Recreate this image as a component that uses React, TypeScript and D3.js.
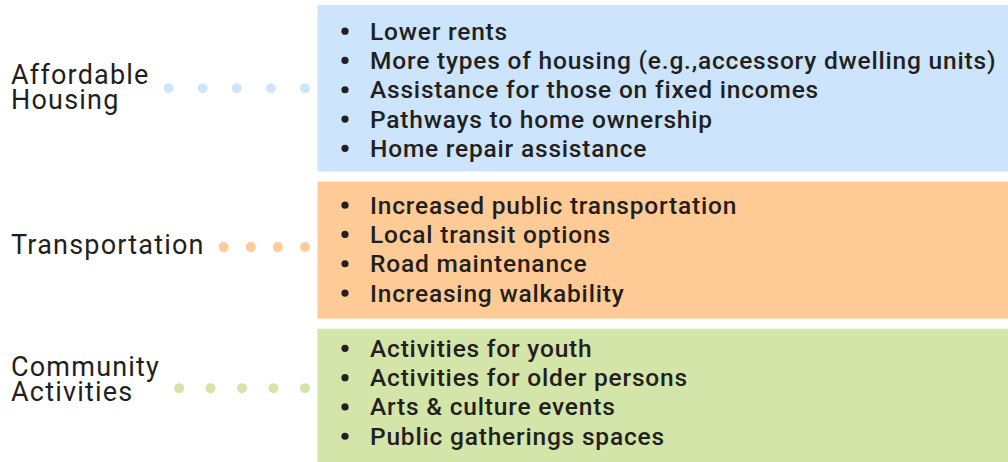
import React, { useRef, useEffect } from "react";
import * as d3 from "d3";

const width = 1008;
const height = 462;

// categories on the left, each split into display lines
const categories = ["Affordable Housing", "Transportation", "Community Activities"];
const categoryLines = [["Affordable", "Housing"], ["Transportation"], ["Community", "Activities"]];
const dotCounts = [5, 4, 5];

// bullet items per category
const housingItems = [
  "Lower rents",
  "More types of housing (e.g.,accessory dwelling units)",
  "Assistance for those on fixed incomes",
  "Pathways to home ownership",
  "Home repair assistance",
];
const transportItems = [
  "Increased public transportation",
  "Local transit options",
  "Road maintenance",
  "Increasing walkability",
];
const communityItems = [
  "Activities for youth",
  "Activities for older persons",
  "Arts & culture events",
  "Public gatherings spaces",
];

const boxColors = ["#cce4fc", "#fecb96", "#d3e5a8"];
const dotColors = ["#cfe5fb", "#fdcb97", "#d3e5a9"];
const textColor = "#231f20";
const font = "Roboto, 'Noto Sans', sans-serif";

// small per-group nudges (layout only)
const itemDy = [0, -2.5, -2.5];
const labelDy = [0, -4, -13];
const dotDy = [0, -3, -5];

const App = () => {
  const ref = useRef(null);

  useEffect(() => {
    document.body.style.margin = "0";
    const svg = d3.select(ref.current);
    svg.selectAll("*").remove();

    const groups = [housingItems, transportItems, communityItems];
    const rowH = 29.3;
    const pad = 20;
    const gap = 10;
    const boxX = 317.5;
    const dotEnd = 305;

    // stack boxes vertically
    let y0 = 5;
    const boxes = groups.map((items, i) => {
      const h = items.length * rowH + pad;
      const b = { i, items, y: y0, h, cy: y0 + h / 2 };
      y0 += h + gap;
      return b;
    });
    boxes[2].cy -= 4; // last box runs off the bottom

    const g = svg.selectAll("g.cat").data(boxes).join("g").attr("class", "cat");

    g.append("rect")
      .attr("x", boxX)
      .attr("y", (d) => d.y)
      .attr("width", width - boxX)
      .attr("height", (d) => d.h)
      .attr("fill", (d) => boxColors[d.i]);

    g.each(function (d) {
      const sel = d3.select(this);
      const half = ((d.items.length - 1) * rowH) / 2;
      const c = d.cy + itemDy[d.i];
      const rows = d3.scaleLinear().domain([0, d.items.length - 1]).range([c - half, c + half]);

      sel.selectAll("circle.bullet")
        .data(d.items)
        .join("circle")
        .attr("class", "bullet")
        .attr("cx", 345)
        .attr("cy", (_, j) => rows(j) + 1.5)
        .attr("r", 3.6)
        .attr("fill", textColor);

      sel.selectAll("text.item")
        .data(d.items)
        .join("text")
        .attr("class", "item")
        .attr("x", 370)
        .attr("y", (_, j) => rows(j) + 10)
        .attr("font-family", font)
        .attr("font-size", 24.5)
        .attr("font-weight", 500)
        .attr("letter-spacing", 0.8)
        .attr("fill", textColor)
        .text((t) => t);

      // left label
      const lines = categoryLines[d.i];
      const label = sel.append("text")
        .attr("font-family", font)
        .attr("font-size", 27)
        .attr("letter-spacing", 1.2)
        .attr("fill", textColor)
        .attr("aria-label", categories[d.i]);
      const lineH = 25;
      lines.forEach((ln, k) => {
        label.append("tspan")
          .attr("x", 11)
          .attr("y", d.cy + 8 + labelDy[d.i] + (k - (lines.length - 1) / 2) * lineH)
          .text(ln);
      });

      const bbox = label.node().getBBox();
      const start = bbox.x + bbox.width + 19;
      const n = dotCounts[d.i];
      const dx = d3.scalePoint().domain(d3.range(n)).range([start, dotEnd]);
      sel.selectAll("circle.dot")
        .data(d3.range(n))
        .join("circle")
        .attr("class", "dot")
        .attr("cx", (k) => dx(k))
        .attr("cy", d.cy + dotDy[d.i])
        .attr("r", 5)
        .attr("fill", dotColors[d.i]);
    });
  }, []);

  return <svg ref={ref} width={width} height={height} style={{ display: "block" }} />;
};

export default App;
